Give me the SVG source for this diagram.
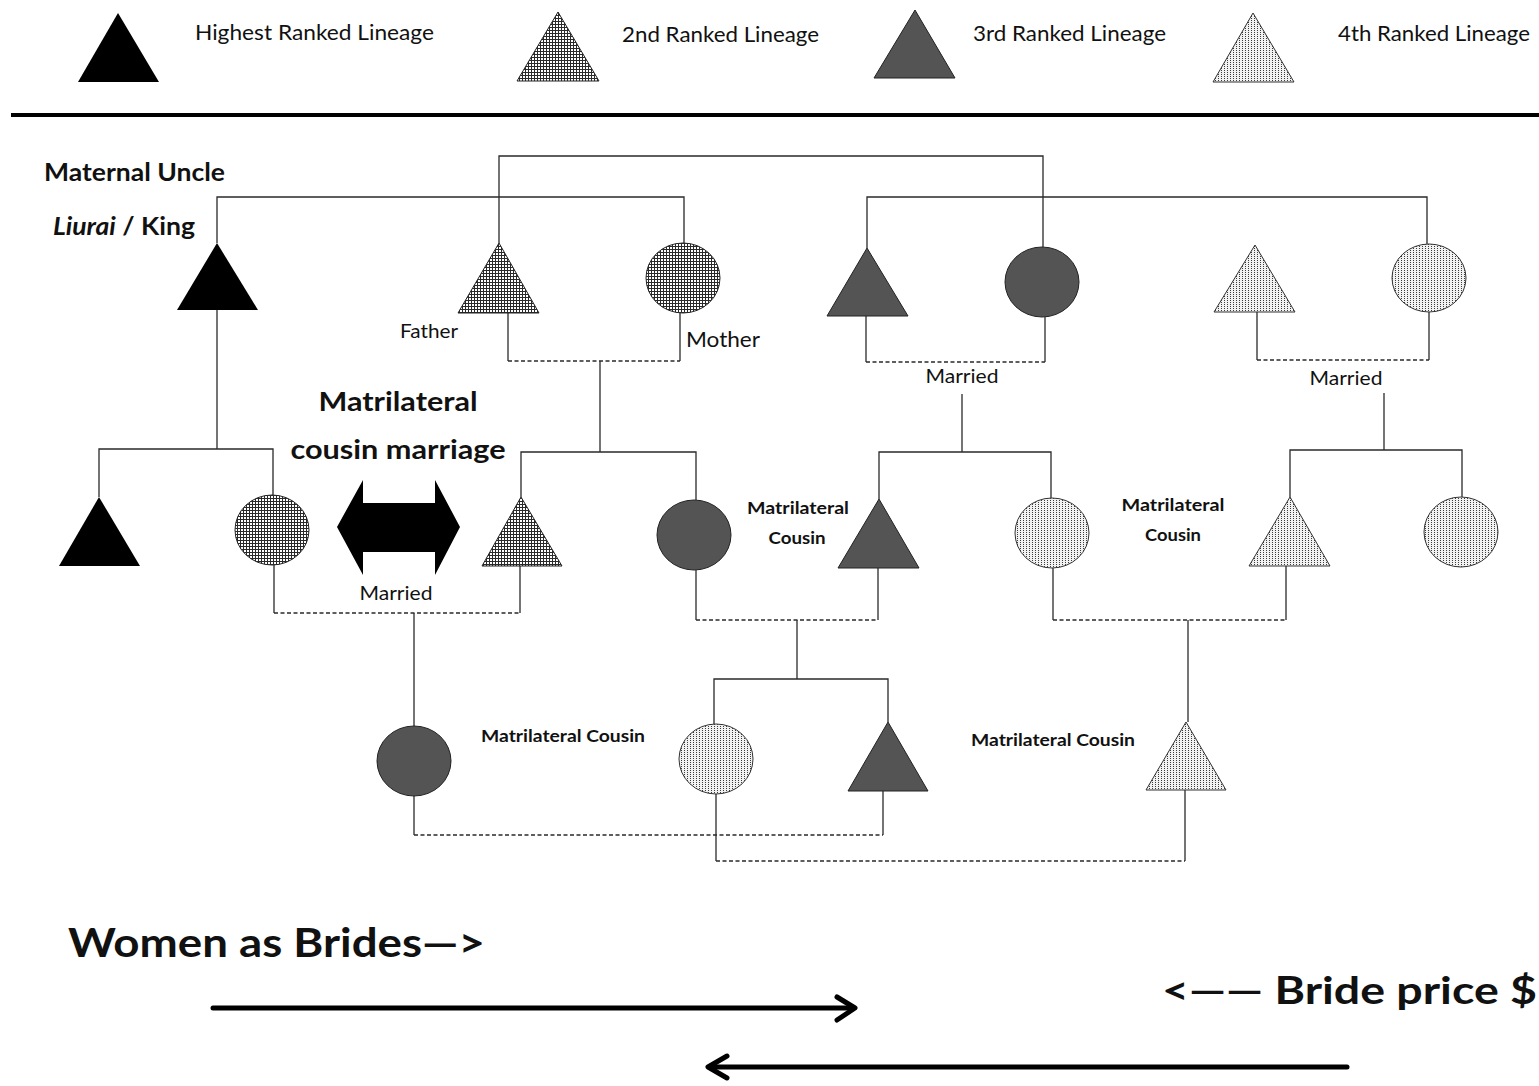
<svg xmlns="http://www.w3.org/2000/svg" width="1539" height="1086" viewBox="0 0 1539 1086">
  <defs>
    <!-- 2nd ranked lineage: dense cross-hatch -->
    <pattern id="hatch2" width="3" height="3" patternUnits="userSpaceOnUse">
      <rect width="3" height="3" fill="#fff"/>
      <rect width="3" height="1" fill="#2a2a2a"/>
      <rect width="1" height="3" fill="#2a2a2a"/>
    </pattern>
    <!-- 4th ranked lineage: light dotted columns -->
    <pattern id="dots4" width="3" height="2" patternUnits="userSpaceOnUse">
      <rect width="3" height="2" fill="#f2f2f2"/>
      <rect width="1" height="1" fill="#3c3c3c"/>
    </pattern>
  </defs>
  <style>
    .bg { fill: #fff; }
    .r1 { fill: #000; }
    .r2 { fill: url(#hatch2); stroke: #222; stroke-width: 1; }
    .r3 { fill: #545454; stroke: #222; stroke-width: 1; }
    .r4 { fill: url(#dots4); stroke: #333; stroke-width: 1; }
    .ln { fill: none; stroke: #2a2a2a; stroke-width: 1.3; }
    .ds { fill: none; stroke: #2a2a2a; stroke-width: 1.3; stroke-dasharray: 4 2.5; }
    .big { fill: none; stroke: #000; stroke-width: 5; stroke-linecap: round; stroke-linejoin: round; }
    text { font-family: Lato, "Liberation Sans", Arial, sans-serif; fill: #111; }
    .leg { font-size: 21px; }
    .b { font-weight: bold; }
    .small { font-size: 17px; font-weight: bold; }
  </style>

  <rect class="bg" width="1539" height="1086"/>

  <!-- Legend -->
  <g id="legend">
    <polygon class="r1" points="118,13 78,82 159,82"/>
    <text class="leg" x="195" y="40" textLength="239" lengthAdjust="spacingAndGlyphs">Highest  Ranked Lineage</text>
    <polygon class="r2" points="558,12 517,81 599,81"/>
    <text class="leg" x="622" y="42" textLength="197" lengthAdjust="spacingAndGlyphs">2nd Ranked Lineage</text>
    <polygon class="r3" points="915,10 874,78 955,78"/>
    <text class="leg" x="973" y="41" textLength="193" lengthAdjust="spacingAndGlyphs">3rd Ranked Lineage</text>
    <polygon class="r4" points="1253,13 1213,82 1294,82"/>
    <text class="leg" x="1338" y="41" textLength="192" lengthAdjust="spacingAndGlyphs">4th Ranked Lineage</text>
    <line x1="11" y1="115" x2="1539" y2="115" stroke="#000" stroke-width="4"/>
  </g>

  <!-- Connectors -->
  <g id="connectors">
    <!-- sibling bars, generation 1 -->
    <polyline class="ln" points="499,243 499,156 1043,156 1043,247"/>
    <polyline class="ln" points="217,243 217,197 684,197 684,243"/>
    <polyline class="ln" points="867,248 867,197 1427,197 1427,244"/>
    <!-- marriages, generation 1 -->
    <polyline class="ln" points="508,313 508,361"/>
    <polyline class="ln" points="680,313 680,361"/>
    <line class="ds" x1="508" y1="361" x2="680" y2="361"/>
    <polyline class="ln" points="600,361 600,452"/>
    <polyline class="ln" points="866,316 866,362"/>
    <polyline class="ln" points="1045,317 1045,362"/>
    <line class="ds" x1="866" y1="362" x2="1045" y2="362"/>
    <polyline class="ln" points="962,394 962,452"/>
    <polyline class="ln" points="1257,312 1257,360"/>
    <polyline class="ln" points="1429,312 1429,360"/>
    <line class="ds" x1="1257" y1="360" x2="1429" y2="360"/>
    <polyline class="ln" points="1384,393 1384,450"/>
    <polyline class="ln" points="217,310 217,449"/>
    <!-- sibling bars, generation 2 -->
    <polyline class="ln" points="99,497 99,449 273,449 273,495"/>
    <polyline class="ln" points="521,497 521,452 696,452 696,500"/>
    <polyline class="ln" points="879,499 879,452 1051,452 1051,498"/>
    <polyline class="ln" points="1290,497 1290,450 1462,450 1462,497"/>
    <!-- marriages, generation 2 -->
    <polyline class="ln" points="274,565 274,613"/>
    <polyline class="ln" points="520,566 520,613"/>
    <line class="ds" x1="274" y1="613" x2="520" y2="613"/>
    <polyline class="ln" points="414,613 414,726"/>
    <polyline class="ln" points="696,570 696,620"/>
    <polyline class="ln" points="878,568 878,620"/>
    <line class="ds" x1="696" y1="620" x2="878" y2="620"/>
    <polyline class="ln" points="797,620 797,679"/>
    <polyline class="ln" points="714,724 714,679 888,679 888,722"/>
    <polyline class="ln" points="1053,568 1053,620"/>
    <polyline class="ln" points="1286,566 1286,620"/>
    <line class="ds" x1="1053" y1="620" x2="1286" y2="620"/>
    <polyline class="ln" points="1188,620 1188,722"/>
    <!-- marriages, generation 3 -->
    <polyline class="ln" points="414,796 414,835"/>
    <polyline class="ln" points="883,791 883,835"/>
    <line class="ds" x1="414" y1="835" x2="883" y2="835"/>
    <polyline class="ln" points="716,794 716,861"/>
    <polyline class="ln" points="1185,790 1185,861"/>
    <line class="ds" x1="716" y1="861" x2="1185" y2="861"/>
  </g>

  <!-- Generation 1 -->
  <g id="maternal-uncle">
    <polygon class="r1" points="217,243 177,310 258,310"/>
    <text class="b" x="44" y="181" font-size="24" textLength="181" lengthAdjust="spacingAndGlyphs">Maternal Uncle</text>
    <text class="b" x="53" y="235" font-size="24" textLength="142" lengthAdjust="spacingAndGlyphs"><tspan font-style="italic">Liurai</tspan> / King</text>
  </g>
  <g id="father">
    <polygon class="r2" points="499,243 458,313 539,313"/>
    <text x="400" y="338" font-size="19" textLength="58" lengthAdjust="spacingAndGlyphs">Father</text>
  </g>
  <g id="mother">
    <ellipse class="r2" cx="683" cy="278" rx="37" ry="35"/>
    <text x="686" y="347" font-size="21" textLength="74" lengthAdjust="spacingAndGlyphs">Mother</text>
  </g>
  <g id="third-man">
    <polygon class="r3" points="867,248 827,316 908,316"/>
  </g>
  <g id="third-woman">
    <ellipse class="r3" cx="1042" cy="282" rx="37" ry="35"/>
  </g>
  <g id="fourth-man">
    <polygon class="r4" points="1255,245 1214,312 1295,312"/>
  </g>
  <g id="fourth-woman">
    <ellipse class="r4" cx="1429" cy="278" rx="37" ry="34"/>
  </g>
  <g id="married-labels-1">
    <text x="962" y="383" font-size="19" text-anchor="middle" textLength="73" lengthAdjust="spacingAndGlyphs">Married</text>
    <text x="1346" y="385" font-size="19" text-anchor="middle" textLength="73" lengthAdjust="spacingAndGlyphs">Married</text>
  </g>

  <!-- Generation 2 -->
  <g id="uncle-son">
    <polygon class="r1" points="99,497 59,566 140,566"/>
  </g>
  <g id="uncle-daughter">
    <ellipse class="r2" cx="272" cy="530" rx="37" ry="35"/>
  </g>
  <g id="cousin-marriage">
    <text class="b" x="398" y="411" font-size="27" text-anchor="middle" textLength="159" lengthAdjust="spacingAndGlyphs">Matrilateral</text>
    <text class="b" x="398" y="459" font-size="27" text-anchor="middle" textLength="215" lengthAdjust="spacingAndGlyphs">cousin marriage</text>
    <polygon fill="#000" points="337,527 363,480 363,503 435,503 435,480 460,527 435,575 435,552 363,552 363,575"/>
    <text x="396" y="600" font-size="19" text-anchor="middle" textLength="73" lengthAdjust="spacingAndGlyphs">Married</text>
  </g>
  <g id="ego">
    <polygon class="r2" points="521,497 482,566 562,566"/>
  </g>
  <g id="sister">
    <ellipse class="r3" cx="694" cy="535" rx="37" ry="35"/>
  </g>
  <g id="label-cousin-a">
    <text class="small" x="798" y="514" text-anchor="middle" textLength="102" lengthAdjust="spacingAndGlyphs">Matrilateral</text>
    <text class="small" x="797" y="544" text-anchor="middle" textLength="57" lengthAdjust="spacingAndGlyphs">Cousin</text>
  </g>
  <g id="third-son">
    <polygon class="r3" points="879,499 838,568 919,568"/>
  </g>
  <g id="third-daughter">
    <ellipse class="r4" cx="1052" cy="533" rx="37" ry="35"/>
  </g>
  <g id="label-cousin-b">
    <text class="small" x="1173" y="511" text-anchor="middle" textLength="103" lengthAdjust="spacingAndGlyphs">Matrilateral</text>
    <text class="small" x="1173" y="541" text-anchor="middle" textLength="56" lengthAdjust="spacingAndGlyphs">Cousin</text>
  </g>
  <g id="fourth-son">
    <polygon class="r4" points="1290,497 1249,566 1330,566"/>
  </g>
  <g id="fourth-daughter">
    <ellipse class="r4" cx="1461" cy="532" rx="37" ry="35"/>
  </g>

  <!-- Generation 3 -->
  <g id="g3-daughter">
    <ellipse class="r3" cx="414" cy="761" rx="37" ry="35"/>
    <text class="small" x="481" y="742" textLength="164" lengthAdjust="spacingAndGlyphs">Matrilateral Cousin</text>
  </g>
  <g id="g3-light-daughter">
    <ellipse class="r4" cx="716" cy="759" rx="37" ry="35"/>
  </g>
  <g id="g3-son">
    <polygon class="r3" points="888,722 848,791 928,791"/>
    <text class="small" x="971" y="746" textLength="164" lengthAdjust="spacingAndGlyphs">Matrilateral Cousin</text>
  </g>
  <g id="g3-fourth-son">
    <polygon class="r4" points="1186,722 1146,790 1226,790"/>
  </g>

  <!-- Exchange flows -->
  <g id="flows">
    <text class="b" x="68" y="957" font-size="40" textLength="417" lengthAdjust="spacingAndGlyphs">Women as Brides—&gt;</text>
    <line class="big" x1="213" y1="1008" x2="853" y2="1008"/>
    <polyline class="big" points="837,997 855,1008 837,1020"/>
    <text class="b" x="1162" y="1004" font-size="38" textLength="375" lengthAdjust="spacingAndGlyphs">&lt;—— Bride price $</text>
    <line class="big" x1="1347" y1="1067" x2="710" y2="1067"/>
    <polyline class="big" points="727,1056 708,1067 727,1078"/>
  </g>
</svg>
